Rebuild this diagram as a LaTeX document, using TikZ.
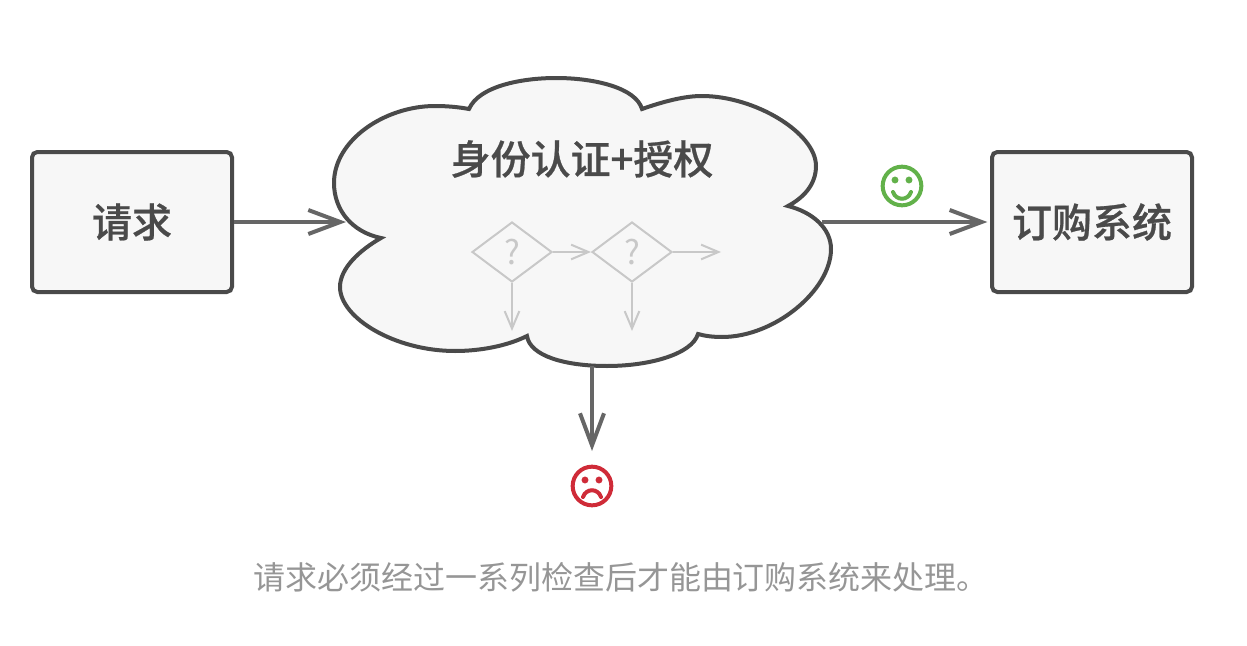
\documentclass[tikz,border=0pt]{standalone}
\usepackage{fontspec}
\newfontfamily\cjkfont{Noto Sans CJK SC}[BoldFont=* Medium, BoldFeatures={FakeBold=0.6}]
\definecolor{flowInk}{HTML}{4A4A4A}
\definecolor{flowArrow}{HTML}{666666}
\definecolor{flowFill}{HTML}{F7F7F7}
\definecolor{flowGhost}{HTML}{C8C8C8}
\definecolor{flowCaption}{HTML}{969696}
\definecolor{faceGood}{HTML}{62B14A}
\definecolor{faceBad}{HTML}{CF2B38}
\usetikzlibrary{arrows.meta, shapes.geometric}
\tikzset{
  %% boxes
  bloc/.style      = {draw=flowInk, line width=3pt, rounded corners=4pt,
                      fill=flowFill, text=flowInk, align=center,
                      minimum width=150pt, minimum height=105pt,
                      font=\cjkfont\bfseries\fontsize{30pt}{36pt}\selectfont},
  titreNuage/.style = {text=flowInk, inner sep=0pt,
                      font=\cjkfont\bfseries\fontsize{30pt}{36pt}\selectfont},
  nuage/.style     = {draw=flowInk, line width=3pt, fill=flowFill},
  %% arrows
  fleche/.style    = {-{Straight Barb[length=24pt, width=18pt]},
                      draw=flowArrow, line width=3pt},
  %% the pale flowchart inside the cloud
  question/.style  = {diamond, draw=flowGhost, line width=1.5pt, aspect=1.33,
                      minimum width=60pt, minimum height=45pt, inner sep=0pt,
                      text=flowGhost, font=\cjkfont\fontsize{25pt}{30pt}\selectfont},
  flechePale/.style = {-{Straight Barb[length=13pt, width=11pt]},
                      draw=flowGhost, line width=1.5pt},
  %% faces
  visage/.style    = {circle, draw, line width=3pt, minimum size=29pt, inner sep=0pt},
  %% text
  legende/.style   = {text=flowCaption, inner sep=0pt,
                      font=\cjkfont\fontsize{24pt}{29pt}\selectfont},
}
\begin{document}
\begin{tikzpicture}[x=0.75pt, y=-0.75pt]
\useasboundingbox (0, 0) rectangle (1247, 646);

\draw[nuage] (469, 109)
  .. controls (479, 86) and (522, 78) .. (556, 78)
  .. controls (595, 78) and (636, 88) .. (642, 109)
  .. controls (665, 101) and (685, 96) .. (702, 96)
  .. controls (755, 96) and (816, 133) .. (816, 166)
  .. controls (816, 185) and (803, 198) .. (788, 206)
  .. controls (812, 212) and (831, 228) .. (831, 249)
  .. controls (831, 290) and (775, 337) .. (722, 337)
  .. controls (713, 337) and (705, 336) .. (698, 334)
  .. controls (692, 354) and (650, 366) .. (607, 366)
  .. controls (565, 366) and (530, 356) .. (527, 336)
  .. controls (507, 346) and (480, 351) .. (455, 351)
  .. controls (395, 351) and (340, 318) .. (340, 287)
  .. controls (340, 268) and (360, 250) .. (381, 238)
  .. controls (352, 232) and (334, 210) .. (334, 183)
  .. controls (334, 140) and (385, 106) .. (435, 106)
  .. controls (447, 106) and (458, 107) .. (469, 109) -- cycle;

\node[titreNuage] (titre) at (582, 159) {身份认证+授权};

\node[bloc] (requete) at (132, 222) {\raisebox{-1.5pt}{请求}};
\node[bloc] (commande) at (1092, 222) {\raisebox{-1.5pt}{订购系统}};

\coordinate (nuageW) at (346, 222);
\coordinate (nuageE) at (822, 222);
\coordinate (nuageS) at (592, 366);
\coordinate (echec) at (592, 451);

\draw[fleche] (requete.east) -- (nuageW);
\draw[fleche, shorten >=2pt] (nuageE) -- (commande.west);
\draw[fleche] (nuageS) -- (echec);

\node[question] (q1) at (512, 252) {?};
\node[question] (q2) at (632, 252) {?};
\coordinate (q1S) at (512, 331);
\coordinate (q2S) at (632, 331);
\coordinate (q2E) at (721, 252);
\draw[flechePale] (q1.east) -- (q2.west);
\draw[flechePale] (q2.east) -- (q2E);
\draw[flechePale] (q1.south) -- (q1S);
\draw[flechePale] (q2.south) -- (q2S);

\node[visage, draw=faceGood] (content) at (902, 186) {};
\fill[faceGood] (895, 180) circle (2.6pt) (909, 180) circle (2.6pt);
\draw[faceGood, line width=3pt, line cap=round] (893, 192) .. controls (896, 201) and (908, 201) .. (911, 192);

\node[visage, draw=faceBad] (triste) at (592, 486) {};
\fill[faceBad] (585, 480) circle (2.6pt) (599, 480) circle (2.6pt);
\draw[faceBad, line width=3pt, line cap=round] (583, 497) .. controls (586, 488) and (598, 488) .. (601, 497);

\node[legende] (legende) at (621, 577) {请求必须经过一系列检查后才能由订购系统来处理。};

\end{tikzpicture}
\end{document}
